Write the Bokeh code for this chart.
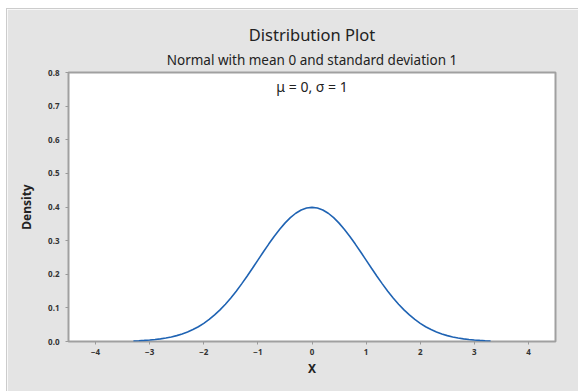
from bokeh.plotting import figure
from bokeh.models import Label, Range1d, FixedTicker, Title
from bokeh.embed import file_html
from bokeh.resources import INLINE

# Standard normal density, sampled along X
x_vals = [-3.3, -3.2, -3.1, -3.0, -2.9, -2.8, -2.7, -2.6, -2.5, -2.4, -2.3, -2.2,
          -2.1, -2.0, -1.9, -1.8, -1.7, -1.6, -1.5, -1.4, -1.3, -1.2, -1.1, -1.0,
          -0.9, -0.8, -0.7, -0.6, -0.5, -0.4, -0.3, -0.2, -0.1, 0.0,
          0.1, 0.2, 0.3, 0.4, 0.5, 0.6, 0.7, 0.8, 0.9, 1.0, 1.1, 1.2,
          1.3, 1.4, 1.5, 1.6, 1.7, 1.8, 1.9, 2.0, 2.1, 2.2, 2.3, 2.4,
          2.5, 2.6, 2.7, 2.8, 2.9, 3.0, 3.1, 3.2, 3.3]
density = [0.0017, 0.0024, 0.0033, 0.0044, 0.0060, 0.0079, 0.0104, 0.0136, 0.0175, 0.0224, 0.0283, 0.0355,
           0.0440, 0.0540, 0.0656, 0.0790, 0.0940, 0.1109, 0.1295, 0.1497, 0.1714, 0.1942, 0.2179, 0.2420,
           0.2661, 0.2897, 0.3123, 0.3332, 0.3521, 0.3683, 0.3814, 0.3910, 0.3970, 0.3989,
           0.3970, 0.3910, 0.3814, 0.3683, 0.3521, 0.3332, 0.3123, 0.2897, 0.2661, 0.2420, 0.2179, 0.1942,
           0.1714, 0.1497, 0.1295, 0.1109, 0.0940, 0.0790, 0.0656, 0.0540, 0.0440, 0.0355, 0.0283, 0.0224,
           0.0175, 0.0136, 0.0104, 0.0079, 0.0060, 0.0044, 0.0033, 0.0024, 0.0017]

x_ticks = [-4, -3, -2, -1, 0, 1, 2, 3, 4]
y_ticks = [0.0, 0.1, 0.2, 0.3, 0.4, 0.5, 0.6, 0.7, 0.8]
y_tick_labels = {0.0: "0.0", 0.1: "0.1", 0.2: "0.2", 0.3: "0.3", 0.4: "0.4",
                 0.5: "0.5", 0.6: "0.6", 0.7: "0.7", 0.8: "0.8"}

title_text = "Distribution Plot"
subtitle_text = "Normal with mean 0 and standard deviation 1"
param_text = "\u03bc = 0, \u03c3 = 1"

FONT = "Noto Sans"
BG = "#e4e4e4"

p = figure(width=571, height=382, margin=(9, 0, 0, 7),
           output_backend="svg", toolbar_location=None,
           x_range=Range1d(-4.5, 4.5), y_range=Range1d(0, 0.8),
           min_border_left=61, min_border_top=63, min_border_right=23, min_border_bottom=50)

p.styles = {"outline": "1px solid #cccccc"}
p.background_fill_color = "white"
p.border_fill_color = BG
p.outline_line_color = "#a0a0a0"
p.outline_line_width = 2
p.grid.visible = False

p.line(x_vals, density, line_color="#1f63b3", line_width=1.6)

for ax in (p.xaxis[0], p.yaxis[0]):
    ax.axis_line_color = None
    ax.major_tick_line_color = "#9a9a9a"
    ax.major_tick_out = 3
    ax.major_tick_in = 0
    ax.minor_tick_line_color = None
    ax.major_label_text_font = FONT
    ax.major_label_text_font_size = "8px"
    ax.major_label_text_font_style = "bold"
    ax.major_label_text_color = "#333333"
    ax.axis_label_text_font = FONT
    ax.axis_label_text_font_style = "bold"
    ax.axis_label_text_color = "#222222"

p.xaxis.ticker = FixedTicker(ticks=x_ticks)
p.yaxis.ticker = FixedTicker(ticks=y_ticks)
p.yaxis.major_label_overrides = y_tick_labels
p.xaxis.axis_label = "X"
p.yaxis.axis_label = "Density"
p.xaxis.axis_label_text_font_size = "12px"
p.yaxis.axis_label_text_font_size = "12px"
p.xaxis.major_label_standoff = 4
p.yaxis.major_label_standoff = 6
p.xaxis.axis_label_standoff = 2
p.yaxis.axis_label_standoff = 10

# Subtitle sits next to the frame, main title above it
p.add_layout(Title(text=subtitle_text, align="center", text_font=FONT,
                   text_font_size="13.5px", text_font_style="normal",
                   text_color="#222222", standoff=7), "above")
p.add_layout(Title(text=title_text, align="center", text_font=FONT,
                   text_font_size="16.5px", text_font_style="normal",
                   text_color="#222222", standoff=0), "above")

p.add_layout(Label(x=0, y=0.757, text=param_text, text_align="center",
                   text_baseline="alphabetic", text_font=FONT,
                   text_font_size="14px", text_color="#222222"))

open("out.html", "w").write(file_html(p, INLINE))
